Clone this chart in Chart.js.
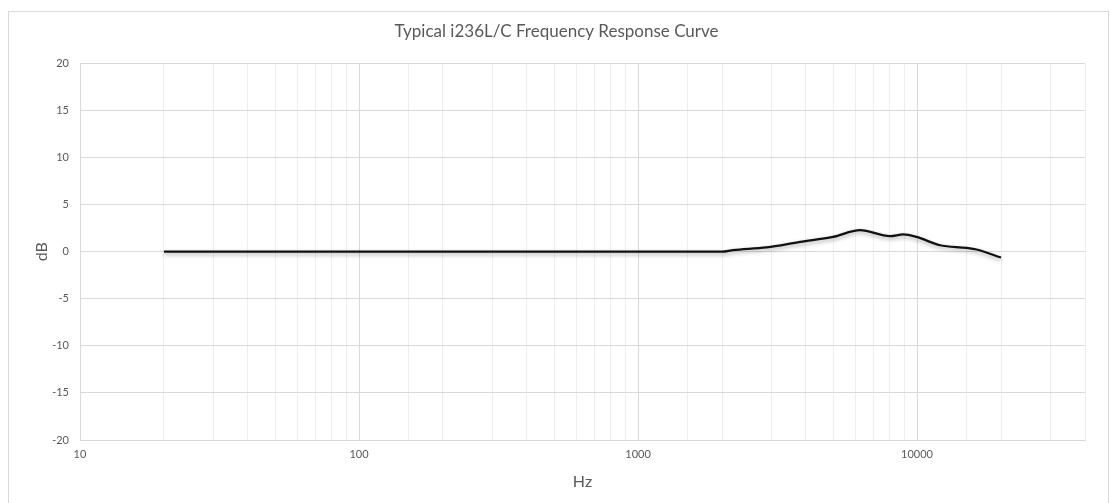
<!DOCTYPE html>
<html>
<head>
<meta charset="utf-8">
<script src="https://cdn.jsdelivr.net/npm/chart.js@4"></script>
<style>
  body { margin: 0; background: #fff; }
  .chart-box { position: relative; width: 1110px; height: 503px; }
</style>
</head>
<body>
<div class="chart-box"><canvas id="myChart" width="1110" height="503"></canvas></div>
<script>
// frequency response values
const freqHz = [20, 50, 100, 200, 500, 1000, 1900, 2000, 2190, 2890, 3810, 5000, 6250, 8000, 8930, 9950, 12090, 15060, 16360, 20000];
const levelDb = [0, 0, 0, 0, 0, 0, 0, 0, 0.16, 0.45, 1.04, 1.57, 2.29, 1.65, 1.83, 1.57, 0.69, 0.4, 0.23, -0.62];
const xTickLabels = [10, 100, 1000, 10000];

const isDecade = (v) => xTickLabels.includes(v);

// black curve gets a soft drop shadow like the original
const curveShadow = {
  id: "curveShadow",
  beforeDatasetsDraw(chart) {
    const c = chart.ctx;
    c.save();
    c.shadowColor = "rgba(0,0,0,0.35)";
    c.shadowBlur = 4;
    c.shadowOffsetY = 2;
  },
  afterDatasetsDraw(chart) {
    chart.ctx.restore();
  },
};

// outer chart frame
const chartFrame = {
  id: "chartFrame",
  afterDraw(chart) {
    const c = chart.ctx;
    c.save();
    c.strokeStyle = "#d9d9d9";
    c.lineWidth = 1;
    c.strokeRect(8.5, 11.5, 1100, 500);
    c.restore();
  },
};

const ctx = document.getElementById("myChart");

const myChart = new Chart(ctx, {
  type: "line",
  data: {
    datasets: [
      {
        label: "Response",
        data: freqHz.map((f, i) => ({ x: f, y: levelDb[i] })),
        borderColor: "#111111",
        borderWidth: 2.2,
        pointRadius: 0,
        cubicInterpolationMode: "monotone",
        fill: false,
      },
    ],
  },
  options: {
    responsive: false,
    animation: false,
    layout: {
      padding: { left: 28, right: 25, top: 0, bottom: 8 },
    },
    plugins: {
      legend: { display: false },
      tooltip: { enabled: false },
      title: {
        display: true,
        text: "Typical i236L/C Frequency Response Curve",
        color: "#595959",
        font: { family: "Lato", size: 17, weight: "normal" },
        padding: { top: 21, bottom: 22 },
      },
    },
    scales: {
      x: {
        type: "logarithmic",
        min: 10,
        max: 40000,
        afterFit: (s) => { s.height = 55; },
        border: { color: "#d9d9d9" },
        grid: {
          color: (c) => (c.tick && isDecade(c.tick.value) ? "#d9d9d9" : "#efefef"),
          drawTicks: false,
        },
        ticks: {
          autoSkip: false,
          maxRotation: 0,
          padding: 8,
          color: "#595959",
          font: { family: "Lato", size: 11 },
          callback: (v) => (isDecade(v) ? String(v) : ""),
        },
        title: {
          display: true,
          text: "Hz",
          color: "#595959",
          font: { family: "Lato", size: 16 },
          padding: { top: 4 },
        },
      },
      y: {
        min: -20,
        max: 20,
        afterFit: (s) => { s.width = 52; },
        border: { color: "#d9d9d9" },
        grid: { color: "#d9d9d9", drawTicks: false },
        ticks: {
          stepSize: 5,
          padding: 11,
          color: "#595959",
          font: { family: "Lato", size: 11 },
        },
        title: {
          display: true,
          text: "dB",
          color: "#595959",
          font: { family: "Lato", size: 16 },
        },
      },
    },
  },
  plugins: [curveShadow, chartFrame],
});
</script>
</body>
</html>
